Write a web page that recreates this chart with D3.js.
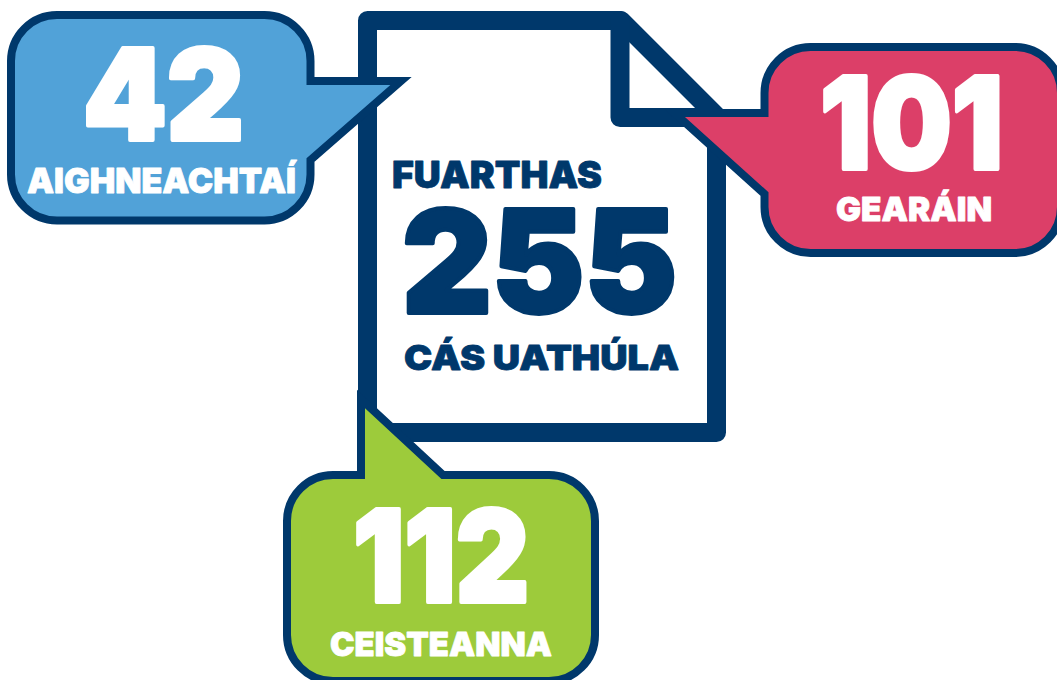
<!DOCTYPE html>
<html>
<head>
<meta charset="utf-8">
<script src="https://cdn.jsdelivr.net/npm/d3@7"></script>
<style>
html,body{margin:0;padding:0;background:#fff;overflow:hidden}
svg{display:block}
text{font-family:Inter,"Open Sans",sans-serif;font-weight:900;stroke-linejoin:round}
</style>
</head>
<body>
<div id="chart"></div>
<script>
const categories = ["AIGHNEACHTAÍ", "GEARÁIN", "CEISTEANNA"];
const values = [42, 101, 112];
const introLabel = "FUARTHAS";
const outroLabel = "CÁS UATHÚLA";
const colours = ["#51a2d8", "#dc3f68", "#9dcb3b"];
const navy = "#00386b";

const W = 1057, H = 680;
const svg = d3.select("#chart").append("svg").attr("width", W).attr("height", H);
const colour = d3.scaleOrdinal(categories, colours);

/* Layout of the infographic, keyed by category */
const layout = {
  "AIGHNEACHTAÍ": {x0:11, x1:310.5, y0:15, y1:220.5, r:46,
    tail:{side:"right", a:81, tip:[401,81], b:160},
    num:[83,244,140,92,4], lab:[27,296,193,25,0.8]},
  "GEARÁIN": {x0:764.5, x1:1061, y0:47, y1:253, r:46,
    tail:{side:"left", a:113, tip:[674.5,113], b:194},
    num:[820,1003,169,93,4], lab:[836,992,221,24,0.8]},
  "CEISTEANNA": {x0:287, x1:595, y0:475, y1:681, r:46,
    tail:{side:"top", a:361, tip:[361,399], b:443},
    num:[353,529,602,93,4], lab:[330,552,656,24,0.8]}
};

function bubblePath(l){
  const p = d3.path(), {x0,x1,y0,y1,r,tail:t} = l;
  p.moveTo(x0+r,y0);
  if(t.side==="top"){ p.lineTo(t.a,y0); p.lineTo(t.tip[0],t.tip[1]); p.lineTo(t.b,y0); }
  p.lineTo(x1-r,y0);
  p.arcTo(x1,y0,x1,y0+r,r);
  if(t.side==="right"){ p.lineTo(x1,t.a); p.lineTo(t.tip[0],t.tip[1]); p.lineTo(x1,t.b); }
  p.lineTo(x1,y1-r);
  p.arcTo(x1,y1,x1-r,y1,r);
  p.lineTo(x0+r,y1);
  p.arcTo(x0,y1,x0,y1-r,r);
  if(t.side==="left"){ p.lineTo(x0,t.b); p.lineTo(t.tip[0],t.tip[1]); p.lineTo(x0,t.a); }
  p.lineTo(x0,y0+r);
  p.arcTo(x0,y0,x0+r,y0,r);
  p.closePath();
  return p.toString();
}

/* Fit a text to a measured box: [xLeft, xRight, baseline, capHeight, extra weight] */
const CAP = 0.727;
function fit(sel, box, paint){
  sel.attr("x", box[0]).attr("y", box[2])
     .attr("font-size", box[3]/CAP)
     .attr("textLength", box[1]-box[0])
     .attr("lengthAdjust", "spacingAndGlyphs")
     .attr("fill", paint)
     .attr("stroke", paint)
     .attr("stroke-width", box[4]);
}

/* Document */
const doc = svg.append("g").attr("fill","none").attr("stroke",navy)
  .attr("stroke-width",19).attr("stroke-linejoin","round").attr("stroke-linecap","round");
const docLine = d3.line();
doc.append("path").attr("fill","#fff").attr("d", docLine([[367.5,20.5],[621,20.5],[716.5,116],[716.5,432.5],[367.5,432.5]])+"Z");
doc.append("path").attr("d", docLine([[620,20.5],[620,117.5],[716,117.5]]));

/* Central text */
const centre = svg.append("g");
centre.append("text").text(introLabel).call(fit,[392,602,188,27,0.8],navy);
centre.append("text").text(d3.sum(values)).call(fit,[402,677,313,104,4],navy);
centre.append("text").text(outroLabel).call(fit,[404,679,370,25,0.8],navy);

/* Bubbles */
const rows = categories.map((c,i)=>({category:c,value:values[i],l:layout[c]}));
const g = svg.selectAll("g.bubble").data(rows).join("g").attr("class","bubble");
g.append("path").attr("d",d=>bubblePath(d.l))
  .attr("fill",d=>colour(d.category)).attr("stroke",navy)
  .attr("stroke-width",8).attr("stroke-linejoin","miter").attr("stroke-miterlimit",20);
g.append("text").text(d=>d.value).each(function(d){d3.select(this).call(fit,d.l.num,"#fff");});
g.append("text").text(d=>d.category).each(function(d){d3.select(this).call(fit,d.l.lab,"#fff");});
</script>
</body>
</html>
